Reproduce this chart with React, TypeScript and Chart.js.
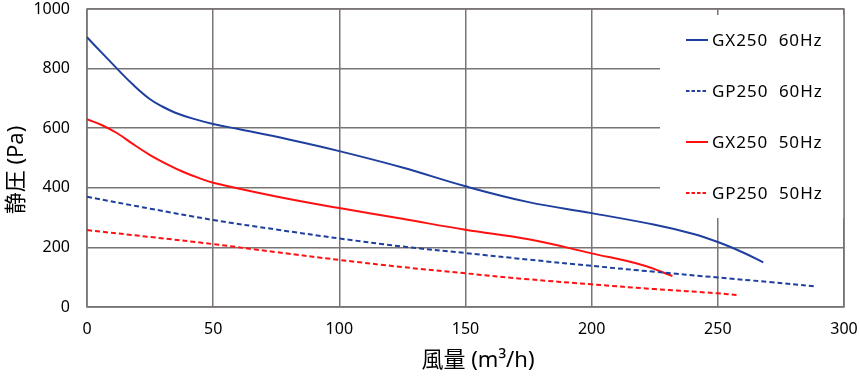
import React, { useEffect, useRef } from "react";
import { Chart, registerables } from "chart.js";

Chart.register(...registerables);

const gx60X = [0, 6, 12, 18, 25, 30, 35, 42, 50, 60, 80, 100, 125, 150, 175, 200, 225, 240, 250, 260, 268];
const gx60Y = [905, 852, 799, 748, 697, 672, 652, 632, 614, 597, 562, 523, 468, 405, 352, 315, 276, 246, 218, 183, 150];

const gp60X = [0, 25, 50, 75, 100, 125, 150, 175, 200, 225, 250, 270, 288];
const gp60Y = [370, 330, 292, 260, 230, 203, 181, 159, 138, 118, 99, 84, 70];

const gx50X = [0, 6, 12, 18, 25, 32, 38, 44, 50, 75, 100, 125, 150, 175, 200, 220, 232];
const gx50Y = [630, 610, 583, 548, 510, 478, 454, 434, 417, 371, 332, 296, 259, 227, 180, 141, 104];

const gp50X = [0, 25, 50, 75, 100, 125, 150, 175, 200, 225, 250, 258];
const gp50Y = [258, 235, 211, 184, 158, 134, 113, 93, 76, 60, 46, 40];

const yTicks = [0, 200, 400, 600, 800, 1000];
const xTicks = [0, 50, 100, 150, 200, 250, 300];

const seriesNames = ["GX250  60Hz", "GP250  60Hz", "GX250  50Hz", "GP250  50Hz"];
const xTitle = "風量 (m³/h)";
const yTitle = "静圧 (Pa)";

const BLUE = "#1f3f9f";
const RED = "#ff1010";
const GRID = "#7a7575";
const FONT = '"Noto Sans", "Noto Sans CJK JP", sans-serif';

const pts = (xs: number[], ys: number[]) => xs.map((x, i) => ({ x, y: ys[i] }));

export default function App() {
  const ref = useRef<HTMLCanvasElement>(null);
  useEffect(() => {
    if (!ref.current) return;
    const styles = [
      { color: BLUE, dash: [] as number[] },
      { color: BLUE, dash: [5, 3] },
      { color: RED, dash: [] as number[] },
      { color: RED, dash: [5, 3] },
    ];
    const overlay = {
      id: "overlay",
      beforeDatasetsDraw(chart: any) {
        const ctx = chart.ctx;
        const a = chart.chartArea;
        ctx.save();
        ctx.fillStyle = "#ffffff";
        ctx.fillRect(660, a.top + 6, a.right - 660, 218 - a.top - 6);
        ctx.strokeStyle = GRID;
        ctx.lineWidth = 1.5;
        ctx.strokeRect(a.left, a.top, a.right - a.left, a.bottom - a.top);
        const ys = [40, 91, 142, 193];
        ctx.font = "17px " + FONT;
        try { (ctx as any).letterSpacing = "0.9px"; } catch (e) {}
        ctx.textBaseline = "middle";
        ctx.textAlign = "left";
        seriesNames.forEach((n, i) => {
          ctx.beginPath();
          ctx.strokeStyle = styles[i].color;
          ctx.lineWidth = 2;
          ctx.setLineDash(styles[i].dash.length ? [3.5, 2] : []);
          ctx.moveTo(686, ys[i]);
          ctx.lineTo(708, ys[i]);
          ctx.stroke();
          ctx.setLineDash([]);
          ctx.fillStyle = "#000";
          ctx.fillText(n, 712, ys[i] + 1);
        });
        try { (ctx as any).letterSpacing = "0px"; } catch (e) {}
        ctx.restore();
      },
      afterDraw(chart: any) {
        const ctx = chart.ctx;
        ctx.save();
        ctx.fillStyle = "#000";
        ctx.font = "22px " + FONT;
        ctx.textAlign = "center";
        ctx.textBaseline = "middle";
        ctx.fillText(xTitle, 478, 361);
        ctx.translate(17, 170);
        ctx.rotate(-Math.PI / 2);
        ctx.fillText(yTitle, 0, 0);
        ctx.restore();
      },
    };
    const chart = new Chart(ref.current, {
      type: "line",
      data: {
        datasets: [
          { label: seriesNames[0], data: pts(gx60X, gx60Y) },
          { label: seriesNames[1], data: pts(gp60X, gp60Y) },
          { label: seriesNames[2], data: pts(gx50X, gx50Y) },
          { label: seriesNames[3], data: pts(gp50X, gp50Y) },
        ].map((d, i) => ({
          ...d,
          borderColor: styles[i].color,
          backgroundColor: styles[i].color,
          borderDash: styles[i].dash,
          borderWidth: 2,
          pointRadius: 0,
          tension: 0.4,
          fill: false,
        })),
      },
      options: {
        responsive: false,
        animation: false,
        layout: { autoPadding: false, padding: { top: 9, right: 16, left: 0, bottom: 0 } },
        plugins: { legend: { display: false }, tooltip: { enabled: false }, title: { display: false } },
        scales: {
          x: {
            type: "linear",
            min: xTicks[0],
            max: xTicks[xTicks.length - 1],
            afterBuildTicks: (s: any) => { s.ticks = xTicks.map((v) => ({ value: v })); },
            ticks: { color: "#000", font: { size: 16, family: FONT }, padding: 13, maxRotation: 0, callback: (v: any) => String(v) },
            grid: { color: GRID, lineWidth: 1.5, drawTicks: false },
            border: { display: false },
            afterFit: (s: any) => { s.height = 73; s.paddingLeft = 0; s.paddingRight = 0; },
          },
          y: {
            min: yTicks[0],
            max: yTicks[yTicks.length - 1],
            afterBuildTicks: (s: any) => { s.ticks = yTicks.map((v) => ({ value: v })); },
            ticks: { color: "#000", font: { size: 16, family: FONT }, padding: 17, callback: (v: any) => String(v) },
            grid: { color: GRID, lineWidth: 1.5, drawTicks: false },
            border: { display: false },
            afterFit: (s: any) => { s.width = 87; s.paddingTop = 0; s.paddingBottom = 0; },
          },
        },
      },
      plugins: [overlay],
    });
    return () => chart.destroy();
  }, []);
  return (
    <div style={{ position: "fixed", left: 0, top: 0, width: 860, height: 380, background: "#fff" }}>
      <canvas ref={ref} width={860} height={380} style={{ display: "block" }} />
    </div>
  );
}
